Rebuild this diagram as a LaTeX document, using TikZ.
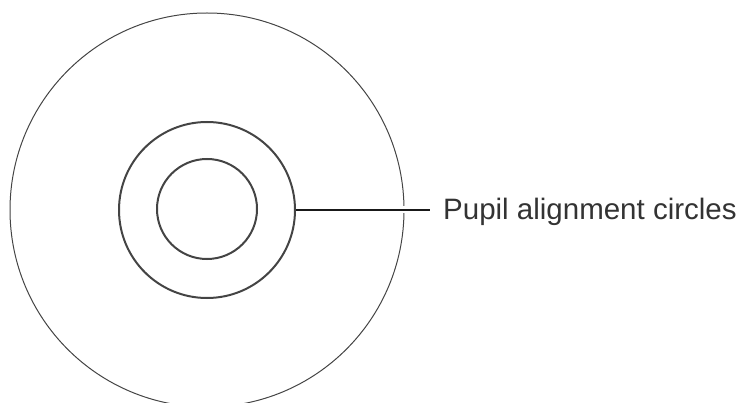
\documentclass[tikz,border=0pt]{standalone}
\usepackage{fontspec}
\setmainfont{Liberation Sans}
\usetikzlibrary{positioning}
\definecolor{ink}{HTML}{444444}
\definecolor{textgray}{HTML}{333333}

\begin{document}
\begin{tikzpicture}[x=1pt,y=-1pt, every node/.style={inner sep=0pt}]
    \useasboundingbox (0,0) rectangle (746,403);
    \node[draw=ink,circle,line width=1pt,minimum size=394pt] (outer) at (207,210) {};
    \node[draw=ink,circle,line width=2pt,minimum size=176pt] (middle) at (207,210) {};
    \node[draw=ink,circle,line width=2pt,minimum size=100pt] (inner) at (207,209) {};
    \node[anchor=base west,text=textgray,font=\fontsize{29.5}{34}\selectfont] (label) at (443,220) {Pupil alignment circles};
    \coordinate[left=13pt of label.west] (lineend);
    \draw[line width=2.4pt,black!90,preaction={draw=white,line width=7pt,shorten <=4pt}] (middle.east) -- (middle.east -| lineend);
  \end{tikzpicture}
\end{document}
